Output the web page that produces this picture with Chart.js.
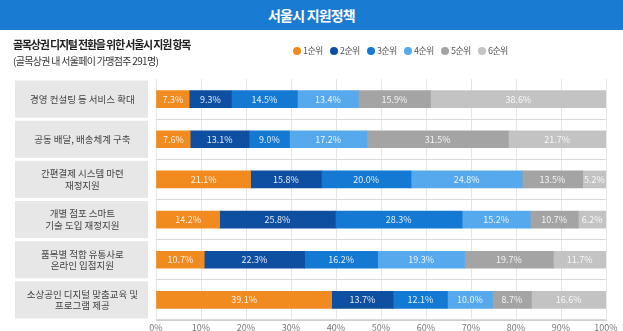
<!DOCTYPE html>
<html>
<head>
<meta charset="utf-8">
<script src="https://cdn.jsdelivr.net/npm/chart.js@4"></script>
<style>
  body { margin: 0; width: 623px; height: 331px; background: #fff; overflow: hidden;
         font-family: "Noto Sans CJK KR", sans-serif; position: relative; }
  #header { position: absolute; left: 0; top: 0; width: 623px; height: 30px; background: #1a7bd2;
            color: #fff; font-weight: bold; font-size: 14px; letter-spacing: -0.8px;
            text-align: center; line-height: 30px; z-index: 2; }
  #sub1 { position: absolute; left: 13px; top: 36px; font-size: 11px; font-weight: bold; color: #222;
          letter-spacing: -1.2px; z-index: 2; }
  #sub2 { position: absolute; left: 13px; top: 53px; font-size: 10px; color: #333;
          letter-spacing: -0.7px; z-index: 2; }
  #legend { position: absolute; left: 293px; top: 44px; font-size: 9px; color: #555; z-index: 2;
            letter-spacing: -0.6px; display: flex; }
  #legend span.item { display: flex; align-items: center; width: 37px; }
  #legend span.dot { width: 8px; height: 8px; border-radius: 50%; margin-right: 2px; }
  canvas { position: absolute; left: 0; top: 0; }
</style>
</head>
<body>
<div id="header">서울시 지원정책</div>
<div id="sub1">골목상권 디지털 전환을 위한 서울시 지원 항목</div>
<div id="sub2">(골목상권 내 서울페이 가맹점주 291명)</div>
<div id="legend"></div>
<canvas id="rankChart" width="623" height="331"></canvas>
<script>
const categories = [
    ['경영 컨설팅 등 서비스 확대'],
    ['공동 배달, 배송체계 구축'],
    ['간편결제 시스템 마련', '재정지원'],
    ['개별 점포 스마트', '기술 도입 재정지원'],
    ['품목별 적합 유통사로', '온라인 입점지원'],
    ['소상공인 디지털 맞춤교육 및', '프로그램 제공']
];
const rankLabels = ['1순위', '2순위', '3순위', '4순위', '5순위', '6순위'];
const rank1 = [7.3, 7.6, 21.1, 14.2, 10.7, 39.1];
const rank2 = [9.3, 13.1, 15.8, 25.8, 22.3, 13.7];
const rank3 = [14.5, 9.0, 20.0, 28.3, 16.2, 12.1];
const rank4 = [13.4, 17.2, 24.8, 15.2, 19.3, 10.0];
const rank5 = [15.9, 31.5, 13.5, 10.7, 19.7, 8.7];
const rank6 = [38.6, 21.7, 5.2, 6.2, 11.7, 16.6];
const xTickStep = 10;

const colors = ['#f28b1f', '#0e4fa1', '#1479d3', '#57a9ee', '#a4a4a4', '#c3c3c3'];
const series = [rank1, rank2, rank3, rank4, rank5, rank6];

// 100% stacked: each row scaled to its total
const rowTotals = categories.map((c, i) => series.reduce((s, arr) => s + arr[i], 0));

// html legend
const legendEl = document.getElementById('legend');
rankLabels.forEach(function(lbl, i) {
    const item = document.createElement('span');
    item.className = 'item';
    item.innerHTML = '<span class="dot" style="background:' + colors[i] + '"></span>' + lbl;
    legendEl.appendChild(item);
});

// grey boxes behind the category labels
const labelBoxes = {
    id: 'labelBoxes',
    beforeDraw(chart) {
        const ctx = chart.ctx;
        const y = chart.scales.y;
        const step = y.getPixelForValue(1) - y.getPixelForValue(0);
        ctx.save();
        ctx.fillStyle = '#e7e7e7';
        categories.forEach(function(c, i) {
            const cy = y.getPixelForValue(i);
            ctx.fillRect(15, cy - step / 2 + 1.5, 133, step - 3);
        });
        ctx.restore();
    }
};

// value labels inside segments
const valueLabels = {
    id: 'valueLabels',
    afterDatasetsDraw(chart) {
        const ctx = chart.ctx;
        ctx.save();
        ctx.font = '9px "Noto Sans CJK KR", sans-serif';
        ctx.fillStyle = 'rgba(255,255,255,0.88)';
        ctx.textAlign = 'center';
        ctx.textBaseline = 'middle';
        chart.data.datasets.forEach(function(ds, di) {
            chart.getDatasetMeta(di).data.forEach(function(bar, i) {
                const txt = series[di][i].toFixed(1) + '%';
                ctx.fillText(txt, (bar.x + bar.base) / 2, bar.y);
            });
        });
        ctx.restore();
    }
};

new Chart(document.getElementById('rankChart').getContext('2d'), {
    type: 'bar',
    data: {
        labels: categories,
        datasets: series.map(function(arr, si) {
            return {
                label: rankLabels[si],
                data: arr.map((v, i) => v / rowTotals[i] * 100),
                backgroundColor: colors[si],
                borderWidth: 0,
                barThickness: 17
            };
        })
    },
    options: {
        indexAxis: 'y',
        responsive: false,
        animation: false,
        layout: { padding: { top: 79, left: 15, right: 17, bottom: 0 } },
        plugins: {
            legend: { display: false },
            tooltip: { enabled: false }
        },
        scales: {
            x: {
                stacked: true,
                min: 0,
                max: 100,
                ticks: {
                    stepSize: xTickStep,
                    padding: 2,
                    color: '#777',
                    font: { size: 9, family: '"Noto Sans CJK KR", sans-serif' },
                    callback: v => v + '%'
                },
                grid: { color: '#e6e6e6', drawTicks: false },
                border: { color: '#cfcfcf' },
                afterFit(scale) { scale.height = 11; scale.paddingLeft = 0; scale.paddingRight = 0; }
            },
            y: {
                stacked: true,
                ticks: {
                    crossAlign: 'center',
                    padding: 18,
                    color: '#444',
                    font: { size: 9.5, family: '"Noto Sans CJK KR", sans-serif' }
                },
                grid: {
                    offset: true,
                    drawTicks: false,
                    color: ctx => ctx.index === 0 ? 'rgba(0,0,0,0)' : '#dadada'
                },
                border: { display: false },
                afterFit(scale) { scale.width = 141; scale.paddingTop = 0; scale.paddingBottom = 0; }
            }
        }
    },
    plugins: [labelBoxes, valueLabels]
});
</script>
</body>
</html>
